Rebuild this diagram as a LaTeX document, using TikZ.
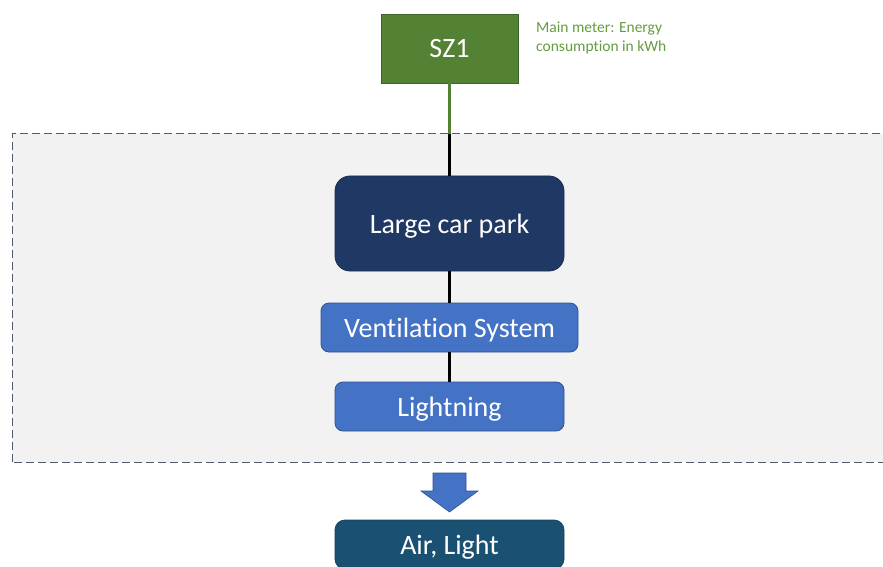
\documentclass[tikz,border=0pt]{standalone}
\usepackage{fontspec}
\setmainfont{Carlito}[Ligatures=NoCommon]
\definecolor{szgreen}{HTML}{548235}
\definecolor{szgreenb}{HTML}{3F6428}
\definecolor{lblgreen}{HTML}{70AD47}
\definecolor{navy}{HTML}{203864}
\definecolor{bblue}{HTML}{4472C4}
\definecolor{bblueb}{HTML}{2F528F}
\definecolor{teal}{HTML}{1A5173}
\definecolor{boxgray}{HTML}{F2F2F2}
\definecolor{dashgray}{HTML}{4F5B66}
\tikzset{
  x=1pt,y=1pt,
  txt/.style={text=white,font=\fontsize{28}{30}\selectfont,inner sep=0pt,text depth=0pt},
  meter/.style={txt,draw=szgreenb,fill=szgreen,line width=0.8pt,minimum width=137pt,minimum height=69pt},
  bigbox/.style={txt,draw=navy!80!black,fill=navy,rounded corners=15pt,line width=0.8pt,minimum width=229pt,minimum height=95pt},
  subbox/.style={txt,draw=bblueb,fill=bblue,rounded corners=8pt,line width=0.8pt,minimum height=49pt},
  outbox/.style={txt,draw=teal!80!black,fill=teal,rounded corners=10pt,line width=0.8pt,minimum width=229pt,minimum height=49pt},
  conn/.style={line width=2.5pt,black},
}
\begin{document}
\begin{tikzpicture}
\useasboundingbox (0,0) rectangle (883,566);
\fill[white] (0,0) rectangle (883,566);
% dashed area
\draw[fill=boxgray,draw=dashgray,dash pattern=on 8pt off 4pt,line width=1pt] (12,104) rectangle (895,432);
% nodes
\node[meter] (sz) at (449.5,517.5) {SZ1};
\node[anchor=north west,align=left,text=lblgreen!90!black,font=\fontsize{15.5}{18.5}\selectfont,inner sep=0pt] (lbl) at (536,544) {Main meter: Energy\\consumption in kWh};
\node[bigbox] (lcp) at (449.5,342.5) {Large car park};
\node[subbox,minimum width=257pt] (vent) at (449.5,238.5) {Ventilation System};
\node[subbox,minimum width=229pt] (light) at (449.5,159.5) {Lightning};
\node[outbox] (air) at (449.5,21.5) {Air, Light};
\coordinate (entry) at (449.5,432);
% connectors
\draw[line width=2.5pt,szgreen] (sz.south) -- (entry);
\draw[conn] (entry) -- (lcp.north);
\draw[conn] (lcp.south) -- (vent.north);
\draw[conn] (vent.south) -- (light.north);
% block arrow
\draw[fill=bblue,draw=bblueb,line width=0.6pt] (433,93) -- (466,93) -- (466,75) -- (478,75) -- (449.5,54) -- (421,75) -- (433,75) -- cycle;
\end{tikzpicture}
\end{document}
